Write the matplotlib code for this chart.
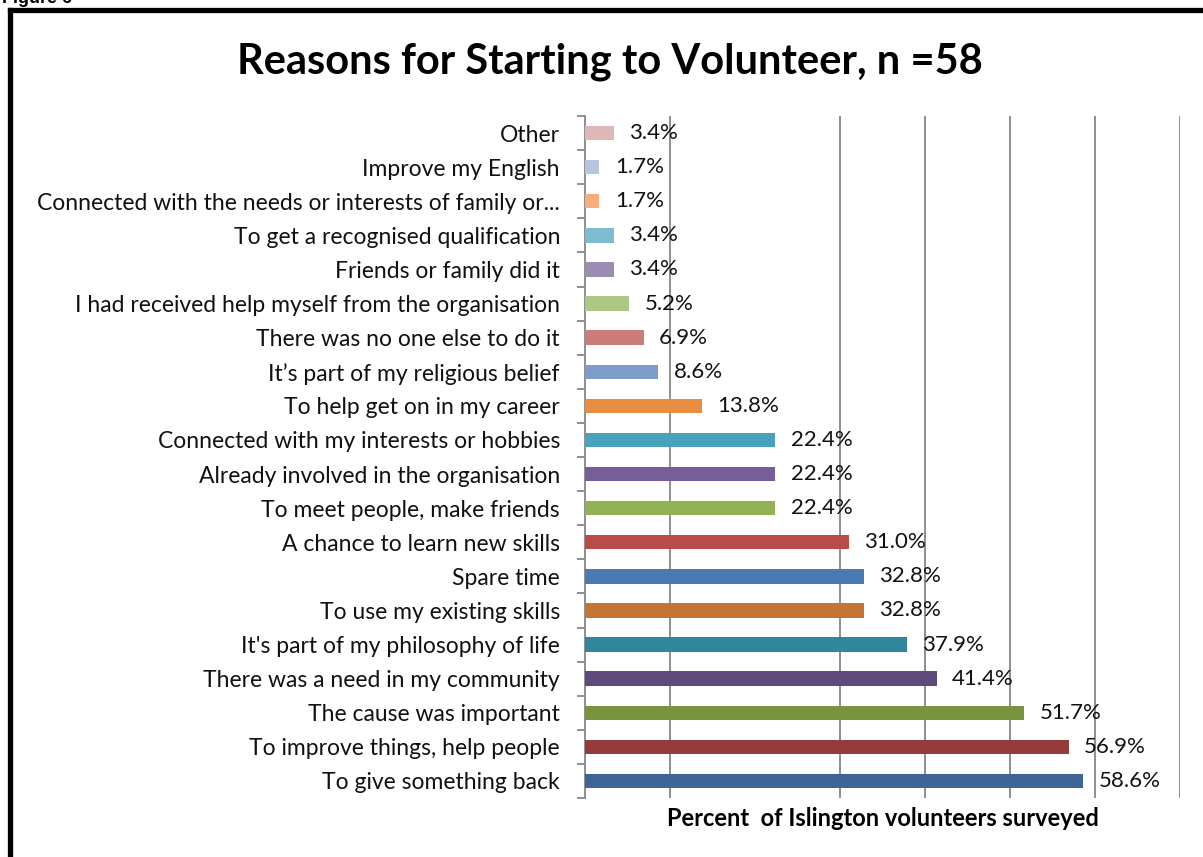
import matplotlib.pyplot as plt
from matplotlib.lines import Line2D
import numpy as np

# Reasons listed bottom-to-top as they appear on the axis
reasons = [
    "To give something back",
    "To improve things, help people",
    "The cause was important",
    "There was a need in my community",
    "It's part of my philosophy of life",
    "To use my existing skills",
    "Spare time",
    "A chance to learn new skills",
    "To meet people, make friends",
    "Already involved in the organisation",
    "Connected with my interests or hobbies",
    "To help get on in my career",
    "It\u2019s part of my religious belief",
    "There was no one else to do it",
    "I had received help myself from the organisation",
    "Friends or family did it",
    "To get a recognised qualification",
    "Connected with the needs or interests of family or...",
    "Improve my English",
    "Other",
]
percent = [58.6, 56.9, 51.7, 41.4, 37.9, 32.8, 32.8, 31.0, 22.4, 22.4,
           22.4, 13.8, 8.6, 6.9, 5.2, 3.4, 3.4, 1.7, 1.7, 3.4]
bar_colors = [
    "#3E6497", "#953B39", "#77933C", "#604A7B", "#31859C", "#C27535",
    "#4A7AB4", "#B94B48", "#93B155", "#775E98", "#47A3BB", "#E98D43",
    "#7E9CC8", "#CB7D7C", "#AFC785", "#9C8BB3", "#7DBCD0", "#F7AE7C",
    "#B6C5DE", "#DFB7B6",
]
grid_at = [10, 30, 40, 50, 60, 70]

plt.rcParams["font.family"] = ["Lato", "DejaVu Sans"]
GRAY = "#868686"

fig = plt.figure(figsize=(12.03, 8.57), dpi=100)
W, H = 1203, 857
ax = fig.add_axes([585 / W, 1 - 798 / H, (1180 - 585) / W, (798 - 116) / H])

y = np.arange(len(reasons))
ax.barh(y, percent, height=0.42, color=bar_colors, zorder=3)

for yi, v in zip(y, percent):
    ax.annotate(f"{v:.1f}%", xy=(v, yi), xytext=(11, 0),
                textcoords="offset points", va="center", ha="left",
                fontsize=16, color="#111111", zorder=4)

for g in grid_at:
    ax.axvline(g, color=GRAY, lw=1.3, zorder=1)

ax.set_xlim(0, 70)
ax.set_ylim(-0.5, len(reasons) - 0.5)
ax.set_xticks([])
ax.set_yticks(y)
ax.set_yticklabels(reasons, fontsize=16.5, color="#111111")
ax.set_yticks(np.arange(-0.5, len(reasons)), minor=True)
ax.tick_params(axis="y", which="major", length=0, pad=18)
ax.tick_params(axis="y", which="minor", length=6, width=1.3, color=GRAY)
for side in ["top", "right", "bottom"]:
    ax.spines[side].set_visible(False)
ax.spines["left"].set_color(GRAY)
ax.spines["left"].set_linewidth(1.3)

ax.set_xlabel("Percent  of Islington volunteers surveyed", fontsize=17,
              fontweight="bold")
ax.xaxis.set_label_coords((883 - 585) / (1180 - 585), -(818 - 798) / (798 - 116))
ax.xaxis.label.set_va("center")

fig.text(610 / W, 1 - 62 / H, "Reasons for Starting to Volunteer, n =58",
         ha="center", va="center", fontsize=30, fontweight="bold")

# caption sitting above the frame, mostly cut off by the page edge
fig.text(0.002, 1 - 3 / H, "Figure 6", ha="left", va="baseline",
         fontsize=13, fontweight="bold", family="Liberation Sans")

# thick black frame around the chart
fig.add_artist(Line2D([10 / W, 10 / W], [0, 1 - 10 / H], color="black",
                      lw=3.8, transform=fig.transFigure, solid_capstyle="projecting"))
fig.add_artist(Line2D([10 / W, 1], [1 - 10 / H, 1 - 10 / H], color="black",
                      lw=3.8, transform=fig.transFigure, solid_capstyle="projecting"))

fig.savefig("out.png", dpi=100)
